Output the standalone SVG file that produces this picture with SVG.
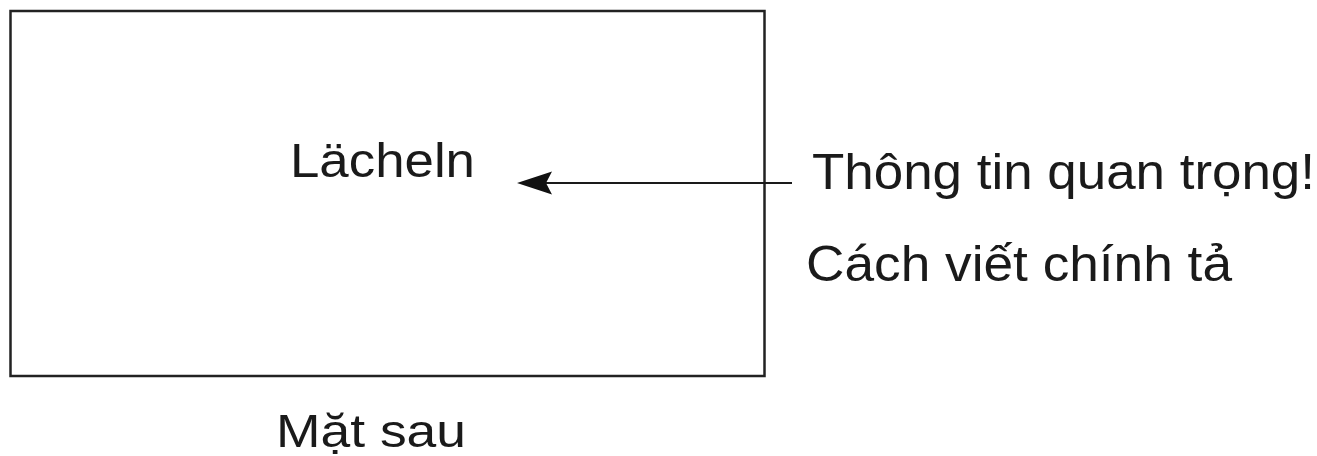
<svg xmlns="http://www.w3.org/2000/svg" width="1317" height="456" viewBox="0 0 1317 456">
  <style>
    .lbl { font-family: "Liberation Sans", Arial, Helvetica, sans-serif; fill: #1a1a1a; }
    .box { fill: #ffffff; stroke: #222222; stroke-width: 2.5; }
    .conn { stroke: #1a1a1a; stroke-width: 2; fill: none; }
  </style>
  <defs>
    <marker id="arrow" viewBox="-36 -13 37 26" markerWidth="37" markerHeight="26" refX="-13" refY="0" orient="auto" markerUnits="userSpaceOnUse">
      <path d="M-35,-11.5 L0,0 L-35,11.5 L-29,0 Z" fill="#111111"/>
    </marker>
  </defs>
  <rect width="1317" height="456" fill="#ffffff"/>
  <g id="card">
    <rect class="box" x="10.5" y="11" width="754" height="365"/>
    <text class="lbl" x="290" y="177" font-size="49" textLength="185" lengthAdjust="spacingAndGlyphs">Lächeln</text>
  </g>
  <g id="note">
    <text class="lbl" x="812" y="189" font-size="50" textLength="503" lengthAdjust="spacingAndGlyphs">Thông tin quan trọng!</text>
    <text class="lbl" x="806" y="281" font-size="50" textLength="426" lengthAdjust="spacingAndGlyphs">Cách viết chính tả</text>
  </g>
  <g id="caption">
    <text class="lbl" x="276" y="447" font-size="47" textLength="190" lengthAdjust="spacingAndGlyphs">Mặt sau</text>
  </g>
  <g id="connectors">
    <line class="conn" x1="792" y1="183" x2="530" y2="183" marker-end="url(#arrow)"/>
  </g>
</svg>
